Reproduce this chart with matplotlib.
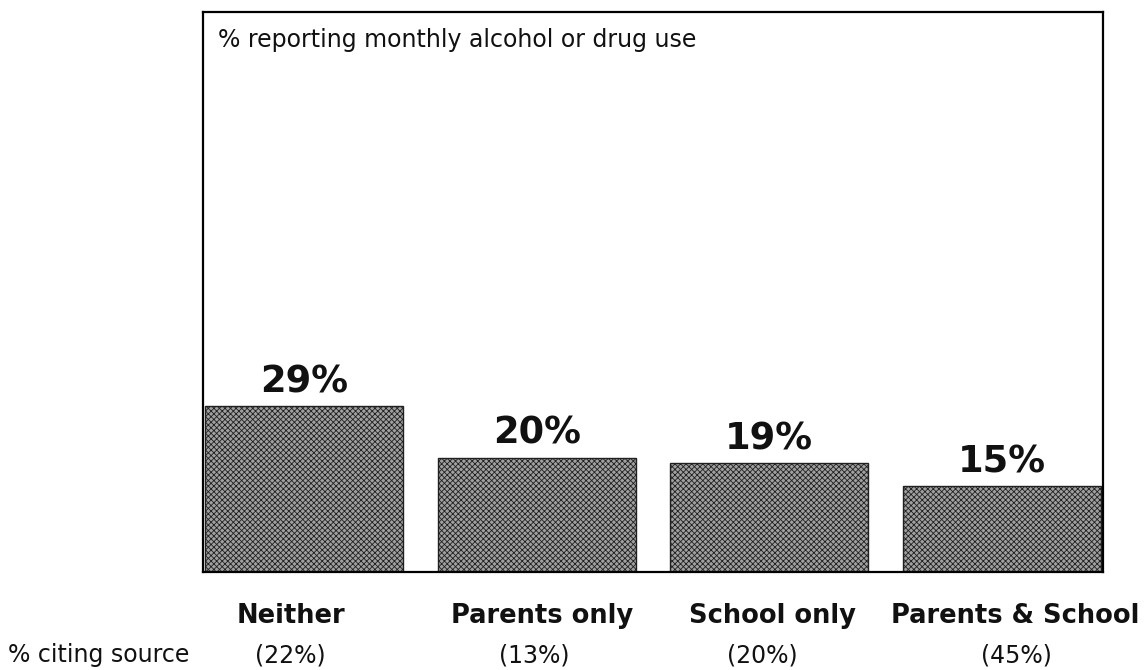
import matplotlib
matplotlib.use('Agg')
import matplotlib.pyplot as plt
import matplotlib.transforms as mtransforms

# data
categories = ['Neither', 'Parents only', 'School only', 'Parents & School']
use_pct = [29, 20, 19, 15]
citing_pct = [22, 13, 20, 45]

# small horizontal nudges (pixels) of the labels under the chart
cat_shift = [-13, 5, 3, 13]
cite_shift = [-14, -2, -7, 15]

plt.rcParams['font.family'] = ['DejaVu Sans']
plt.rcParams['hatch.color'] = '#3a3a3a'
plt.rcParams['hatch.linewidth'] = 0.6

fig = plt.figure(figsize=(11.48, 6.70), dpi=100)
ax = fig.add_axes([203 / 1148, 98 / 670, 900 / 1148, 560 / 670])

x = list(range(len(categories)))
bars = ax.bar(x, use_pct, width=0.852, color='#a0a0a0', edgecolor='#202020',
              linewidth=1.0, hatch='xxxxxx')

ax.set_xlim(-0.435, 3.435)
ax.set_ylim(0, 98)
ax.set_xticks([])
ax.set_yticks([])
for s in ax.spines.values():
    s.set_linewidth(1.6)
    s.set_color('black')

# value labels above bars
for i, v in enumerate(use_pct):
    ax.annotate(f'{v}%', (x[i], v), xytext=(0, 10), textcoords='offset points',
                ha='center', va='baseline', fontsize=26.5, fontweight='bold',
                color='#111111')

ax.text(0.017, 0.972, '% reporting monthly alcohol or drug use',
        transform=ax.transAxes, ha='left', va='top', fontsize=17, color='#111111')

# category labels and citing percentages under the axes
trans = mtransforms.blended_transform_factory(ax.transData, fig.transFigure)
for i, cat in enumerate(categories):
    ax.annotate(cat, (x[i], 1 - 623 / 670), xycoords=trans,
                xytext=(cat_shift[i] * 0.72, 0), textcoords='offset points',
                ha='center', va='baseline', fontsize=18.5, fontweight='bold',
                color='#111111', annotation_clip=False)
    ax.annotate(f'({citing_pct[i]}%)', (x[i], 1 - 662 / 670), xycoords=trans,
                xytext=(cite_shift[i] * 0.72, 0), textcoords='offset points',
                ha='center', va='baseline', fontsize=17, color='#111111',
                annotation_clip=False)

fig.text(8 / 1148, 1 - 662 / 670, '% citing source', ha='left', va='baseline',
         fontsize=17, color='#111111')

fig.savefig('out.png', dpi=100)
